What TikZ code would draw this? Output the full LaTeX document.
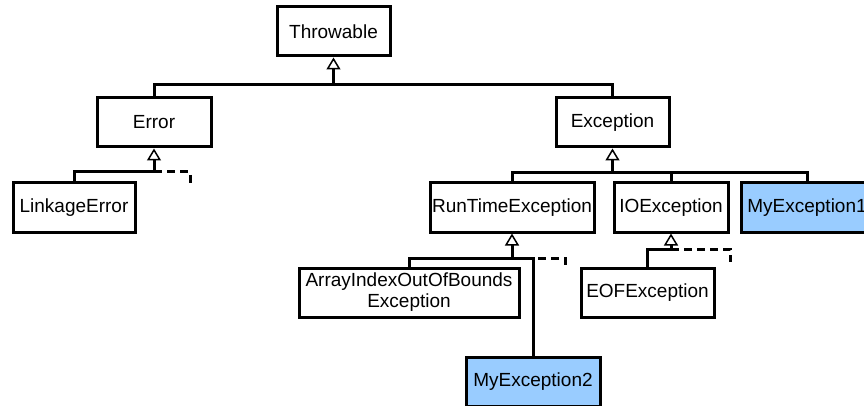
\documentclass[tikz,border=0pt]{standalone}
\usepackage{fontspec}
\setmainfont{Liberation Sans}
\usepackage{xcolor}
\usetikzlibrary{arrows.meta}
\definecolor{userblue}{RGB}{153,204,255}
\tikzset{
klass/.style={
    rectangle,
    draw=black,
    fill=white,
    line width=3pt,
    minimum height=49pt,
    inner sep=2pt,
    align=center,
    font=\fontsize{19}{21}\selectfont
},
userklass/.style={
    klass,
    fill=userblue
},
link/.style={
    line width=3pt
}}

\begin{document}
\begin{tikzpicture}[
        >={Triangle[fill=white, length=12pt, width=14pt, line width=1.5pt]},
        x=1pt, y=-1pt
    ]
    \useasboundingbox (0,0) rectangle (864,406);

    % node placement
    \node[klass, minimum width=113pt] (Throwable) at (333.5,31.5) {Throwable};

    \node[klass, minimum width=114pt] (Error) at (154,122.5) {Error};
    \node[klass, minimum width=113pt] (Exception) at (612.5,122.5) {Exception};

    \node[klass, minimum width=122pt] (Linkage) at (74,207.5) {LinkageError};
    \node[klass, minimum width=164pt] (RunTime) at (512,207.5) {RunTimeException};
    \node[klass, minimum width=114pt] (IO) at (671,207.5) {IOException};
    \node[userklass, minimum width=132pt] (MyEx1) at (807,207.5) {MyException1};

    \node[klass, minimum width=220pt] (ArrayIdx) at (409,292.5) {ArrayIndexOutOfBounds\\Exception};
    \node[klass, minimum width=133pt] (EOF) at (647.5,292.5) {EOFException};
    \node[userklass, minimum width=134pt] (MyEx2) at (533,381.5) {MyException2};

    % junctions
    \coordinate (tj) at (333.5,85);
    \coordinate (ej) at (154,172);
    \coordinate (edash) at (190,185);
    \coordinate (xj) at (612.5,173);
    \coordinate (rj) at (512,258);
    \coordinate (rdash) at (565,266);
    \coordinate (ij) at (671,249);
    \coordinate (idash) at (730,262);

    % edges
    \draw[link] (Error.north) |- (tj);
    \draw[link] (Exception.north) |- (tj);
    \draw[link, ->] (tj) -- (Throwable.south);

    \draw[link, dashed, dash pattern=on 8pt off 5pt] (ej) -| (edash);
    \draw[link] (Linkage.north) |- (ej);
    \draw[link, ->] (ej) -- (Error.south);

    \draw[link] (RunTime.north) |- (xj);
    \draw[link] (IO.north) |- (xj);
    \draw[link] (MyEx1.north) |- (xj);
    \draw[link, ->] (xj) -- (Exception.south);

    \draw[link, dashed, dash pattern=on 8pt off 5pt] (rj) -| (rdash);
    \draw[link] (ArrayIdx.north) |- (rj);
    \draw[link] (MyEx2.north) |- (rj);
    \draw[link, ->] (rj) -- (RunTime.south);

    \draw[link, dashed, dash pattern=on 8pt off 5pt] (ij) -| (idash);
    \draw[link] (EOF.north) |- (ij);
    \draw[link, ->] (ij) -- (IO.south);

\end{tikzpicture}
\end{document}
